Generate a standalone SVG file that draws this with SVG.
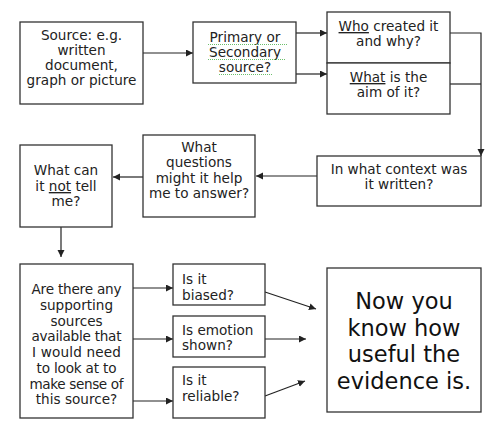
<svg xmlns="http://www.w3.org/2000/svg" width="500" height="433" viewBox="0 0 500 433">
<defs>
<marker id="ah" markerUnits="userSpaceOnUse" markerWidth="8" markerHeight="8" refX="7" refY="3.5" orient="auto">
<path d="M0,0 L7,3.5 L0,7 Z" fill="#222"/>
</marker>
<style>
.box{fill:#fff;stroke:#333;stroke-width:1.3}
.t{font-family:"DejaVu Sans",Verdana,sans-serif;font-size:13.6px;fill:#222}
.c{text-anchor:middle}
.big{font-family:"DejaVu Sans",Verdana,sans-serif;font-size:22.5px;fill:#111;text-anchor:middle}
.ln{fill:none;stroke:#222;stroke-width:1.2}
.arr{marker-end:url(#ah)}
.sq{stroke:#6cbf6c;stroke-width:1;stroke-dasharray:1 1;fill:none}
.u{text-decoration:underline}
</style>
</defs>
<rect width="500" height="433" fill="#fff"/>
<g id="connectors">
<path class="ln arr" d="M143,53 H193"/>
<path class="ln arr" d="M296,33 H327"/>
<path class="ln arr" d="M296,74 H327"/>
<path class="ln arr" d="M450,33 H481 V156"/>
<path class="ln" d="M450,84 H481"/>
<path class="ln arr" d="M317,176 H256"/>
<path class="ln arr" d="M143,177 H113"/>
<path class="ln arr" d="M61,227 V257"/>
<path class="ln arr" d="M133,288 H173"/>
<path class="ln arr" d="M133,339 H173"/>
<path class="ln arr" d="M133,401 H173"/>
<path class="ln arr" d="M265,292 L316,309"/>
<path class="ln arr" d="M265,339 H306"/>
<path class="ln arr" d="M265,396 L305,381"/>
</g>
<g id="source">
<rect class="box" x="20" y="22" width="123" height="82"/>
<text class="t c" x="81.5" y="40">Source: e.g.</text>
<text class="t c" x="81.5" y="55">written</text>
<text class="t c" x="81.5" y="70">document,</text>
<text class="t c" x="81.5" y="85">graph or picture</text>
</g>
<g id="primary">
<rect class="box" x="193" y="22" width="103" height="61"/>
<text class="t c" x="245" y="42">Primary or</text>
<text class="t c" x="245" y="57">Secondary</text>
<text class="t c" x="245" y="72">source?</text>
<path class="sq" d="M208,44.5 H287 M208,59.5 H285 M219,74.5 H272"/>
</g>
<g id="who">
<rect class="box" x="327" y="12" width="123" height="51"/>
<text class="t c" x="388.5" y="31"><tspan class="u">Who</tspan> created it</text>
<text class="t c" x="388.5" y="46">and why?</text>
</g>
<g id="what">
<rect class="box" x="327" y="63" width="123" height="51"/>
<text class="t c" x="388.5" y="82"><tspan class="u">What</tspan> is the</text>
<text class="t c" x="388.5" y="97">aim of it?</text>
</g>
<g id="context">
<rect class="box" x="317" y="156" width="164" height="50"/>
<text class="t c" x="399" y="174">In what context was</text>
<text class="t c" x="399" y="189">it written?</text>
</g>
<g id="questions">
<rect class="box" x="143" y="135" width="112" height="82"/>
<text class="t c" x="199" y="152">What</text>
<text class="t c" x="199" y="167">questions</text>
<text class="t c" x="199" y="183">might it help</text>
<text class="t c" x="199" y="198">me to answer?</text>
</g>
<g id="whatcan">
<rect class="box" x="20" y="145" width="92" height="82"/>
<text class="t c" x="66" y="175">What can</text>
<text class="t c" x="66" y="191">it <tspan class="u">not</tspan> tell</text>
<text class="t c" x="66" y="206">me?</text>
</g>
<g id="arethere">
<rect class="box" x="20" y="264" width="113" height="154"/>
<text class="t c" x="76.5" y="294" textLength="90" lengthAdjust="spacing">Are there any</text>
<text class="t c" x="76.5" y="310">supporting</text>
<text class="t c" x="76.5" y="326">sources</text>
<text class="t c" x="76.5" y="341" textLength="90" lengthAdjust="spacing">available that</text>
<text class="t c" x="76.5" y="357" textLength="89" lengthAdjust="spacing">I would need</text>
<text class="t c" x="76.5" y="373" textLength="80" lengthAdjust="spacing">to look at to</text>
<text class="t c" x="76.5" y="389" textLength="94" lengthAdjust="spacing">make sense of</text>
<text class="t c" x="76.5" y="404">this source?</text>
</g>
<g id="biased">
<rect class="box" x="173" y="264" width="92" height="41"/>
<text class="t" x="182" y="284">Is it</text>
<text class="t" x="182" y="300">biased?</text>
</g>
<g id="emotion">
<rect class="box" x="173" y="316" width="92" height="41"/>
<text class="t" x="182" y="335">Is emotion</text>
<text class="t" x="182" y="350">shown?</text>
</g>
<g id="reliable">
<rect class="box" x="173" y="367" width="92" height="51"/>
<text class="t" x="182" y="385">Is it</text>
<text class="t" x="182" y="401">reliable?</text>
</g>
<g id="conclusion">
<rect class="box" x="327" y="268" width="154" height="144"/>
<text class="big" x="404" y="309">Now you</text>
<text class="big" x="404" y="336">know how</text>
<text class="big" x="404" y="362">useful the</text>
<text class="big" x="404" y="389">evidence is.</text>
</g>
</svg>
